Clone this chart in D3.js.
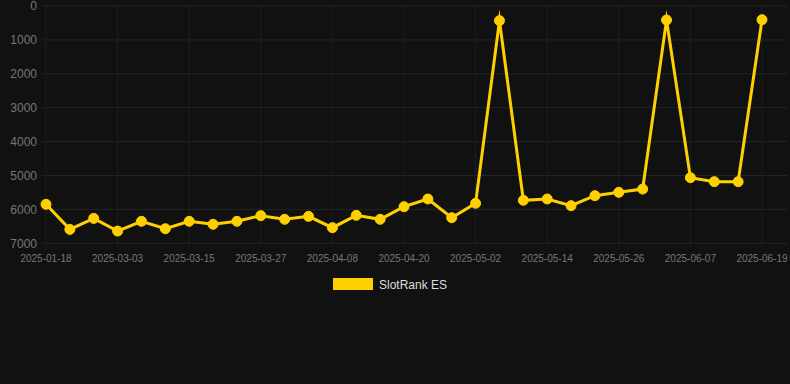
<!DOCTYPE html>
<html>
<head>
<meta charset="utf-8">
<script src="https://cdn.jsdelivr.net/npm/d3@7"></script>
<style>
  html, body { margin: 0; padding: 0; background: #111111; }
  svg { display: block; }
</style>
</head>
<body>
<svg id="chart" width="790" height="384"></svg>
<script>
const dates = ["2025-01-18","2025-02-23","2025-02-27","2025-03-03","2025-03-07","2025-03-11","2025-03-15","2025-03-19","2025-03-23","2025-03-27","2025-03-31","2025-04-04","2025-04-08","2025-04-12","2025-04-16","2025-04-20","2025-04-24","2025-04-28","2025-05-02","2025-05-06","2025-05-10","2025-05-14","2025-05-18","2025-05-22","2025-05-26","2025-05-30","2025-06-03","2025-06-07","2025-06-11","2025-06-15","2025-06-19"];
const ranks = [5850,6590,6265,6640,6352,6570,6352,6440,6352,6185,6293,6205,6540,6175,6293,5920,5693,6245,5820,433,5732,5693,5890,5595,5497,5400,413,5064,5182,5182,404];
const yTicks = [0,1000,2000,3000,4000,5000,6000,7000];
const seriesName = "SlotRank ES";
const color = "#FFD000";

const svg = d3.select("#chart");
const W = 790;
const area = {left: 42, right: 787, top: 6, bottom: 243.3};

const x = d3.scalePoint().domain(dates).range([46, 762]);
const y = d3.scaleLinear().domain([0, 7000]).range([area.top, area.bottom]);

const font = "Arial, 'Liberation Sans', Helvetica, sans-serif";

// horizontal grid
svg.append("g").selectAll("line").data(yTicks).join("line")
  .attr("x1", area.left).attr("x2", area.right)
  .attr("y1", d => y(d)).attr("y2", d => y(d))
  .attr("stroke", "#242424").attr("stroke-width", 1);

const labeled = dates.filter((d, i) => i % 3 === 0);
// vertical grid
svg.append("g").selectAll("line").data(labeled).join("line")
  .attr("x1", d => x(d)).attr("x2", d => x(d))
  .attr("y1", area.top).attr("y2", area.bottom + 4)
  .attr("stroke", "#1e1e1e").attr("stroke-width", 1);

// y labels
svg.append("g").selectAll("text").data(yTicks).join("text")
  .attr("x", 37).attr("y", d => y(d))
  .attr("dy", "0.35em")
  .attr("text-anchor", "end")
  .attr("font-family", font).attr("font-size", 12)
  .attr("fill", "#777")
  .text(d => d);

// x labels
svg.append("g").selectAll("text").data(labeled).join("text")
  .attr("x", d => x(d)).attr("y", 258)
  .attr("dy", "0.35em")
  .attr("text-anchor", "middle")
  .attr("font-family", font).attr("font-size", 10)
  .attr("fill", "#777")
  .text(d => d);

// line
const line = d3.line().x((d, i) => x(dates[i])).y(d => y(d));
svg.append("path").datum(ranks)
  .attr("d", line)
  .attr("fill", "none")
  .attr("stroke", color)
  .attr("stroke-width", 3)
  .attr("stroke-linejoin", "miter")
  .attr("stroke-miterlimit", 10);

// points
svg.append("g").selectAll("circle").data(ranks).join("circle")
  .attr("cx", (d, i) => x(dates[i]))
  .attr("cy", d => y(d))
  .attr("r", 5)
  .attr("fill", color)
  .attr("stroke", color)
  .attr("stroke-width", 1);

// legend
const lg = svg.append("g");
lg.append("rect").attr("x", 333).attr("y", 278).attr("width", 40).attr("height", 12).attr("fill", color);
lg.append("text").attr("x", 379).attr("y", 284.5).attr("dy", "0.35em")
  .attr("font-family", font).attr("font-size", 12).attr("fill", "#dddddd")
  .text(seriesName);
</script>
</body>
</html>
